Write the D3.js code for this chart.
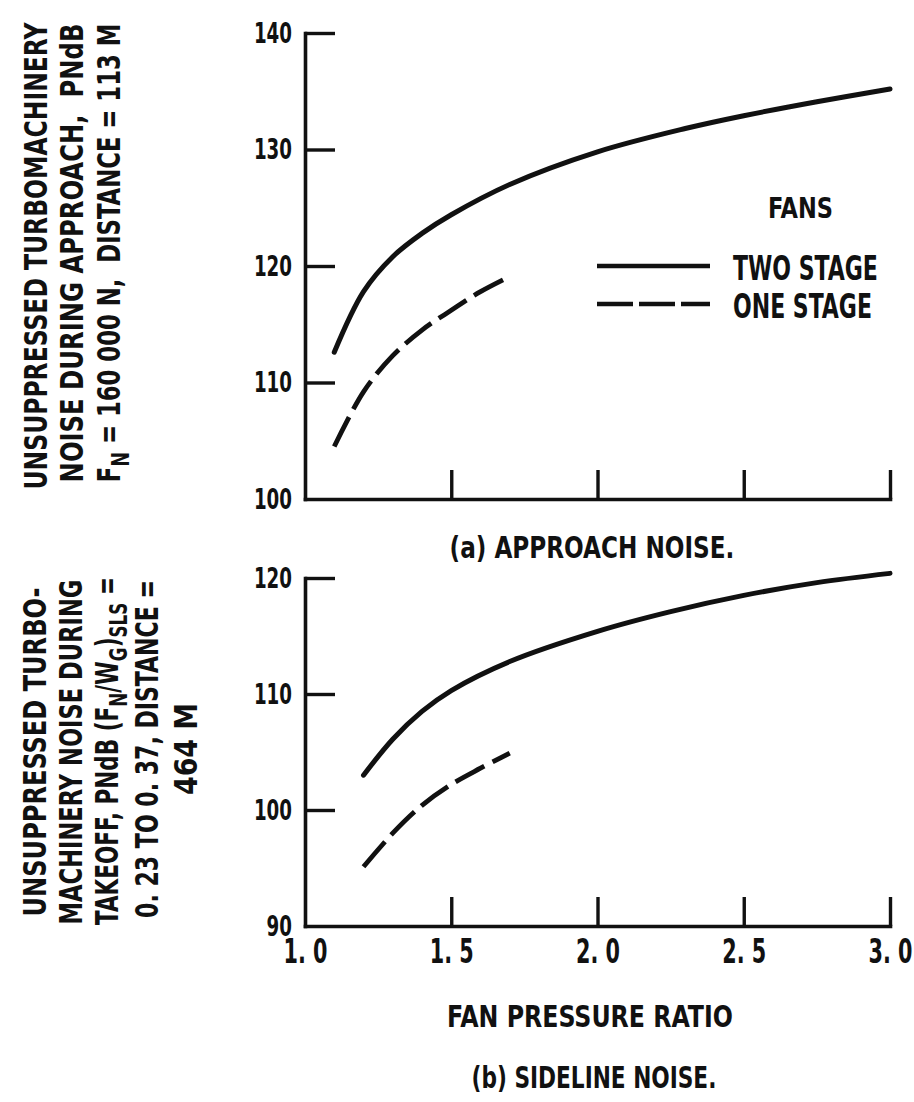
<!DOCTYPE html>
<html>
<head>
<meta charset="utf-8">
<script src="https://cdn.jsdelivr.net/npm/d3@7"></script>
<style>
  html, body { margin: 0; padding: 0; background: #fff; }
  svg { display: block; }
</style>
</head>
<body>
<svg id="chart" width="914" height="1102"></svg>
<script>
// Fan pressure ratio axis
const fanPressureTicks = [1.0, 1.5, 2.0, 2.5, 3.0];
const fanPressureLabels = ["1. 0", "1. 5", "2. 0", "2. 5", "3. 0"];

// Noise axes (PNdB)
const approachTicks = [100, 110, 120, 130, 140];
const sidelineTicks = [90, 100, 110, 120];

// (a) Approach noise
const approachTwoStageX = [1.1, 1.2, 1.3, 1.4, 1.5, 1.7, 2.0, 2.3, 2.5, 2.75, 3.0];
const approachTwoStageY = [112.6, 117.8, 120.8, 122.8, 124.4, 127.0, 129.8, 131.8, 132.9, 134.1, 135.2];
const approachOneStageX = [1.1, 1.2, 1.3, 1.4, 1.5, 1.6, 1.7];
const approachOneStageY = [104.5, 109.2, 112.3, 114.5, 116.2, 117.8, 119.1];

// (b) Sideline noise
const sidelineTwoStageX = [1.2, 1.3, 1.4, 1.5, 1.7, 2.0, 2.25, 2.5, 2.75, 3.0];
const sidelineTwoStageY = [103.0, 106.1, 108.5, 110.3, 112.8, 115.4, 117.1, 118.5, 119.6, 120.4];
const sidelineOneStageX = [1.2, 1.3, 1.4, 1.5, 1.6, 1.7];
const sidelineOneStageY = [95.1, 98.0, 100.4, 102.2, 103.6, 104.9];

const FONT = "'Liberation Sans Narrow','DejaVu Sans Condensed','Liberation Sans',Arial,sans-serif";
const INK = "#111";

const svg = d3.select("#chart");
svg.append("rect").attr("width", 914).attr("height", 1102).attr("fill", "#fff");

const x = d3.scaleLinear().domain([1, 3]).range([305, 890]);
const yA = d3.scaleLinear().domain([100, 140]).range([499, 33]);
const yB = d3.scaleLinear().domain([90, 120]).range([926, 578]);

// squeeze a text element horizontally about its anchor point
function squeeze(node, width) {
  const w = node.getBBox().width;
  const ax = +node.getAttribute("x") || 0;
  node.setAttribute("transform", `translate(${ax},0) scale(${width / w},1) translate(${-ax},0)`);
}

// Text helper: parts are [string, "sub"|null]; the run is squeezed to a target width
function addText(opts) {
  const g = svg.append("g")
    .attr("transform", `translate(${opts.x},${opts.y})` + (opts.rotate ? ` rotate(${opts.rotate})` : ""));
  const size = opts.size;
  const t = g.append("text")
    .attr("text-anchor", opts.anchor || "middle")
    .attr("font-family", FONT)
    .attr("font-weight", "bold")
    .attr("font-size", size)
    .attr("fill", INK)
    .attr("y", opts.center ? size * 0.36 : 0);
  const parts = typeof opts.text === "string" ? [[opts.text, null]] : opts.text;
  let shifted = false;
  parts.forEach(([str, kind]) => {
    const ts = t.append("tspan").text(str).attr("xml:space", "preserve");
    if (kind === "sub") {
      ts.attr("font-size", size * 0.78);
      if (!shifted) { ts.attr("dy", size * 0.3); shifted = true; }
    } else if (shifted) {
      ts.attr("dy", -size * 0.3);
      shifted = false;
    }
  });
  if (opts.width) squeeze(t.node(), opts.width);
  return t;
}

function drawPanel(yScale, yTicks, withLabels, oneX, oneY, twoX, twoY) {
  const yMin = yScale.domain()[0];
  const yBase = yScale(yMin);

  // left axis, ticks pointing into the plot
  const gy = svg.append("g").attr("transform", `translate(${x(1)},0)`)
    .call(d3.axisLeft(yScale).tickValues(yTicks).tickSize(-30).tickSizeOuter(0).tickPadding(13));
  gy.selectAll(".tick").filter(d => d === yMin).select("line").remove();

  // bottom axis, ticks pointing up
  const xAxis = d3.axisBottom(x).tickValues(fanPressureTicks).tickSize(-29).tickSizeOuter(0).tickPadding(14)
    .tickFormat((d, i) => withLabels ? fanPressureLabels[i] : "");
  const gx = svg.append("g").attr("transform", `translate(0,${yBase})`).call(xAxis);
  gx.selectAll(".tick").filter(d => d === 1).select("line").remove();

  [gx, gy].forEach(g => {
    g.selectAll("path.domain").attr("stroke", INK).attr("stroke-width", 3.6).attr("stroke-linecap", "square");
    g.selectAll(".tick line").attr("stroke", INK).attr("stroke-width", 3.4);
  });

  gy.selectAll(".tick text")
    .attr("font-family", FONT).attr("font-weight", "bold").attr("font-size", 29).attr("fill", INK)
    .each(function (d) { squeeze(this, String(d).length * 12.7); });

  if (withLabels) {
    gx.selectAll(".tick text")
      .attr("font-family", FONT).attr("font-weight", "bold").attr("font-size", 33).attr("fill", INK)
      .attr("xml:space", "preserve")
      .each(function () { squeeze(this, 44); });
  }

  const line = d3.line().x(d => x(d[0])).y(d => yScale(d[1])).curve(d3.curveCatmullRom.alpha(0.5));

  svg.append("path")
    .datum(twoX.map((v, i) => [v, twoY[i]]))
    .attr("d", line).attr("fill", "none").attr("stroke", INK)
    .attr("stroke-width", 5).attr("stroke-linecap", "round");

  svg.append("path")
    .datum(oneX.map((v, i) => [v, oneY[i]]))
    .attr("d", line).attr("fill", "none").attr("stroke", INK)
    .attr("stroke-width", 4.8).attr("stroke-dasharray", "33,9");
}

drawPanel(yA, approachTicks, false, approachOneStageX, approachOneStageY, approachTwoStageX, approachTwoStageY);
drawPanel(yB, sidelineTicks, true, sidelineOneStageX, sidelineOneStageY, sidelineTwoStageX, sidelineTwoStageY);

// Legend
svg.append("line").attr("x1", 597).attr("x2", 710).attr("y1", 266).attr("y2", 266)
  .attr("stroke", INK).attr("stroke-width", 4.6);
svg.append("line").attr("x1", 597).attr("x2", 710).attr("y1", 304).attr("y2", 304)
  .attr("stroke", INK).attr("stroke-width", 4.6).attr("stroke-dasharray", "36,6");
addText({ text: "FANS", x: 768, y: 218, anchor: "start", size: 29, width: 65 });
addText({ text: "TWO STAGE", x: 733, y: 280, anchor: "start", size: 33, width: 145 });
addText({ text: "ONE STAGE", x: 733, y: 318, anchor: "start", size: 33, width: 139 });

// Captions
addText({ text: "(a) APPROACH NOISE.", x: 592, y: 558, size: 30, width: 285 });
addText({ text: "FAN PRESSURE RATIO", x: 590, y: 1027, size: 30, width: 286 });
addText({ text: "(b) SIDELINE NOISE.", x: 594, y: 1088, size: 30, width: 245 });

// Axis titles, rotated
addText({ text: "UNSUPPRESSED TURBOMACHINERY", x: 35, y: 256, rotate: -90, center: true, size: 32, width: 468 });
addText({ text: "NOISE DURING APPROACH,  PNdB", x: 71, y: 253, rotate: -90, center: true, size: 32, width: 459 });
addText({ text: [["F", null], ["N", "sub"], [" = 160 000 N,  DISTANCE = 113 M", null]],
  x: 108, y: 253, rotate: -90, center: true, size: 32, width: 459 });

addText({ text: "UNSUPPRESSED TURBO-", x: 34, y: 752, rotate: -90, center: true, size: 32, width: 329 });
addText({ text: "MACHINERY NOISE DURING", x: 70, y: 752, rotate: -90, center: true, size: 32, width: 345 });
addText({ text: [["TAKEOFF, PNdB (F", null], ["N", "sub"], ["/W", null], ["G", "sub"], [")", null], ["SLS", "sub"], [" =", null]],
  x: 106, y: 751, rotate: -90, center: true, size: 32, width: 348 });
addText({ text: "0. 23 TO 0. 37, DISTANCE =", x: 146, y: 749, rotate: -90, center: true, size: 32, width: 338 });
addText({ text: "464 M", x: 185, y: 749, rotate: -90, center: true, size: 32, width: 92 });
</script>
</body>
</html>
